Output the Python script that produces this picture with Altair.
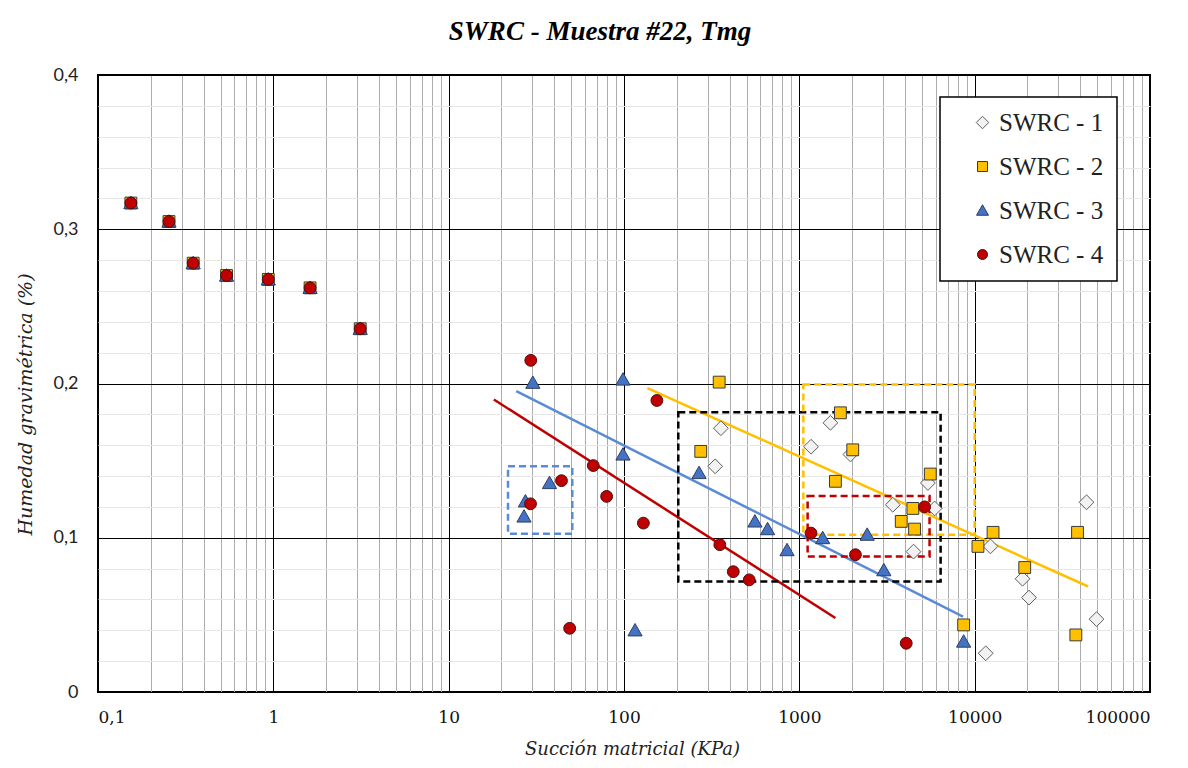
import altair as alt
import pandas as pd

series_names = ["SWRC - 1", "SWRC - 2", "SWRC - 3", "SWRC - 4"]

# points shared by SWRC-2, -3, -4 at low suction
shared_x = [0.154, 0.254, 0.349, 0.541, 0.936, 1.62, 3.13]
shared_y = [0.317, 0.305, 0.278, 0.270, 0.2675, 0.262, 0.2355]

s1_x = [357, 331, 1166, 1504, 1956, 3414, 5411, 5910, 4480, 12300, 18750, 20420, 43450, 49550, 11560]
s1_y = [0.171, 0.1463, 0.159, 0.1745, 0.154, 0.1214, 0.1355, 0.119, 0.091, 0.0944, 0.0734, 0.0612, 0.123, 0.0472, 0.0251]

s2_x = [349, 274, 1715, 2017, 1606, 5584, 4441, 3813, 4541, 12730, 10440, 19300, 38600, 37760, 8652]
s2_y = [0.2009, 0.156, 0.181, 0.157, 0.1366, 0.1413, 0.119, 0.1106, 0.1056, 0.1035, 0.0944, 0.0807, 0.1035, 0.037, 0.0435]

s3_x = [30.2, 98.7, 98.7, 37.6, 27.4, 26.9, 115.6, 268, 558, 659, 851, 1359, 2438, 3033, 8652]
s3_y = [0.2005, 0.2026, 0.154, 0.1355, 0.1236, 0.1138, 0.040, 0.142, 0.1106, 0.1056, 0.092, 0.0998, 0.102, 0.079, 0.0327]

s4_x = [29.4, 154, 44, 29.3, 66.8, 79.6, 129, 49, 352, 420, 518, 1166, 2089, 5179, 4070]
s4_y = [0.215, 0.189, 0.137, 0.122, 0.1468, 0.1268, 0.1095, 0.0413, 0.0955, 0.078, 0.0727, 0.103, 0.089, 0.120, 0.0316]

# trend lines (start, end)
trend_red_x = [18.1, 1606]
trend_red_y = [0.1896, 0.048]
trend_blue_x = [24.3, 8580]
trend_blue_y = [0.195, 0.0489]
trend_yellow_x = [136, 44400]
trend_yellow_y = [0.197, 0.0684]

# dashed boxes: x0, x1, y0, y1
box_blue = [21.8, 50.7, 0.1026, 0.1463]
box_black = [204, 6395, 0.0716, 0.1814]
box_yellow = [1054, 10000, 0.102, 0.1994]
box_red = [1115, 5530, 0.0879, 0.127]

shapes = [
    "M0,-1.25L1.25,0L0,1.25L-1.25,0Z",
    "square",
    "M0,-1.15L1.2,0.95L-1.2,0.95Z",
    "circle",
]
fills = ["#F2F2F2", "#FFC000", "#4472C4", "#C00000"]
strokes = ["#5E5E5E", "#3A3A3A", "#2F3F5F", "#4A1010"]

rows = []
series_data = [
    (series_names[0], s1_x, s1_y),
    (series_names[1], shared_x + s2_x, shared_y + s2_y),
    (series_names[2], shared_x + s3_x, shared_y + s3_y),
    (series_names[3], shared_x + s4_x, shared_y + s4_y),
]
for name, xs, ys in series_data:
    for xv, yv in zip(xs, ys):
        rows.append({"serie": name, "x": xv, "y": yv})
pts = pd.DataFrame(rows)

major_x = "abs(log(datum.value)/LN10 - round(log(datum.value)/LN10)) < 0.001"
x_ticks = [m * 10.0 ** e for e in range(-1, 5) for m in range(1, 10)] + [100000]
major_y = "abs(datum.value*10 - round(datum.value*10)) < 0.001"
y_ticks = [round(i * 0.02, 2) for i in range(21)]

xaxis = alt.Axis(
    values=x_ticks,
    labelExpr=f"({major_x}) ? (datum.value < 0.5 ? '0,1' : format(datum.value, 'd')) : ''",
    grid=True,
    gridColor={"condition": {"test": major_x, "value": "#000000"}, "value": "#ABABAB"},
    gridWidth=1,
    ticks=False,
    domain=False,
    labelOverlap=False,
    labelFont="DejaVu Serif",
    labelFontSize=17,
    labelColor="#111111",
    labelPadding=17,
    title="Succión matricial (KPa)",
    titleFont="DejaVu Serif",
    titleFontSize=18,
    titleFontStyle="italic",
    titleFontWeight="normal",
    titleColor="#222222",
    titleX=534,
    titleY=57,
    titleBaseline="middle",
)
yaxis = alt.Axis(
    values=y_ticks,
    labelExpr=f"({major_y}) ? (datum.value == 0 ? '0' : replace(format(datum.value, '.1f'), '.', ',')) : ''",
    grid=True,
    gridColor={"condition": {"test": major_y, "value": "#000000"}, "value": "#E6E6E6"},
    gridWidth=1,
    ticks=False,
    domain=False,
    labelOverlap=False,
    labelFont="Lato",
    labelFontSize=18,
    labelColor="#222222",
    labelPadding=20,
    title="Humedad gravimétrica (%)",
    titleFont="DejaVu Serif",
    titleFontSize=19,
    titleFontStyle="italic",
    titleFontWeight="normal",
    titleColor="#222222",
    titleX=-73,
    titleY=329,
    titleBaseline="middle",
)

xscale = alt.Scale(type="log", domain=[0.1, 100000])
yscale = alt.Scale(domain=[0, 0.4])

X = alt.X("x:Q", scale=xscale, axis=xaxis)
Y = alt.Y("y:Q", scale=yscale, axis=yaxis)

layers = []

for xs, ys, col in [
    (trend_red_x, trend_red_y, "#C00000"),
    (trend_blue_x, trend_blue_y, "#5B8BD5"),
    (trend_yellow_x, trend_yellow_y, "#FFC000"),
]:
    layers.append(
        alt.Chart(pd.DataFrame({"x": xs, "y": ys}))
        .mark_line(color=col, strokeWidth=2.5)
        .encode(x=X, y=Y)
    )

for b, col in [
    (box_blue, "#5B8BD5"),
    (box_black, "#000000"),
    (box_yellow, "#FFC000"),
    (box_red, "#C00000"),
]:
    layers.append(
        alt.Chart(pd.DataFrame({"x": [b[0]], "x2": [b[1]], "y": [b[2]], "y2": [b[3]]}))
        .mark_rect(fill="white", fillOpacity=0, stroke=col, strokeWidth=2.5, strokeDash=[7, 4])
        .encode(x=X, x2="x2:Q", y=Y, y2="y2:Q")
    )

leg = alt.Legend(title=None, orient="none", legendX=842, legendY=22)
points = (
    alt.Chart(pts)
    .mark_point(filled=True, opacity=1, strokeWidth=1, size=140)
    .encode(
        x=X,
        y=Y,
        shape=alt.Shape("serie:N", scale=alt.Scale(domain=series_names, range=shapes), legend=leg),
        fill=alt.Fill("serie:N", scale=alt.Scale(domain=series_names, range=fills), legend=leg),
        stroke=alt.Stroke("serie:N", scale=alt.Scale(domain=series_names, range=strokes), legend=leg),
    )
)
layers.append(points)

chart = (
    alt.layer(*layers)
    .properties(
        width=1052,
        height=617,
        autosize=alt.AutoSizeParams(type="none"),
        padding={"left": 90, "top": 67, "right": 30, "bottom": 68},
        title=alt.TitleParams(
            "SWRC - Muestra #22, Tmg",
            font="Liberation Serif",
            fontSize=27,
            fontStyle="italic",
            fontWeight="bold",
            anchor="middle",
            dx=-24,
            offset=20,
            color="black",
        ),
    )
    .configure_view(stroke="black", strokeWidth=2)
    .configure_legend(
        padding=13,
        strokeColor="black",
        strokeWidth=1.5,
        fillColor="white",
        labelFont="Liberation Serif",
        labelFontSize=25,
        labelColor="#222222",
        rowPadding=18,
        symbolOffset=17,
        symbolSize=100,
        labelOffset=4,
        symbolStrokeWidth=1,
        cornerRadius=0,
    )
)

chart.save("out.html", embed_options={"renderer": "svg", "actions": False})
